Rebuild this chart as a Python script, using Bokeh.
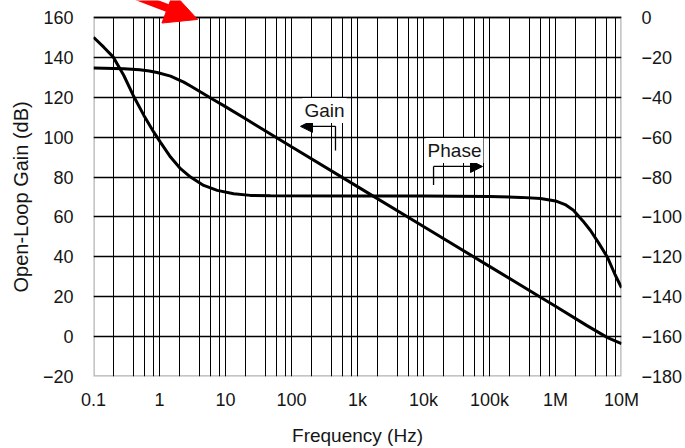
from bokeh.plotting import figure
from bokeh.models import (Range1d, LinearAxis, FixedTicker, Arrow, NormalHead, Label,
                          BoxAnnotation, Grid, Title)
from bokeh.embed import file_html
from bokeh.resources import INLINE

# ---- axis ticks / labels ----
freq_ticks = [0.1, 1, 10, 100, 1e3, 1e4, 1e5, 1e6, 1e7]
freq_tick_labels = ["0.1", "1", "10", "100", "1k", "10k", "100k", "1M", "10M"]
gain_ticks = [-20, 0, 20, 40, 60, 80, 100, 120, 140, 160]
phase_ticks = [-180, -160, -140, -120, -100, -80, -60, -40, -20, 0]

# ---- series ----
gain_freq = [0.1, 0.29, 0.5, 0.7, 0.92, 1.47, 2.33, 3.0, 4.2, 6.5, 9.4, 21, 48,
             100, 1000, 10000, 100000, 593000, 1000000, 3000000, 6140000, 10000000]
gain_db = [134.6, 134.3, 133.8, 133.2, 132.4, 130.6, 127.6, 125.5, 122.6, 118.9, 115.8, 108.8, 101.6,
           95.2, 75.2, 55.2, 35.2, 19.7, 15.2, 5.5, -0.5, -3.5]

phase_freq = [0.1, 0.143, 0.2, 0.288, 0.4, 0.58, 0.82, 1.03, 1.47, 2.08, 2.95, 4.67, 7.5,
              13.3, 23.8, 48, 1000, 10000, 100000, 300000, 593000, 1000000, 1400000, 1870000,
              2600000, 3390000, 4500000, 6140000, 8000000, 10000000]
phase_deg = [-9.9, -14.9, -19.9, -29.1, -39.1, -49.1, -57.5, -62.5, -70.0, -75.8, -80.0, -84.2, -86.7,
             -88.4, -89.2, -89.4, -89.5, -89.5, -89.8, -90.2, -90.8, -92.0, -93.8, -96.7,
             -102.0, -106.8, -113.0, -120.3, -129.0, -135.5]

FONT = "Liberation Sans"
TXT = "#151515"

# frame runs to the top of the page; the chart box itself stops at 160 dB / 0 deg
GAIN_LO, GAIN_HI = -20, 160
PHASE_LO, PHASE_HI = -180, 0
TOP_EXTRA = 8.5  # dB of blank room above the chart box (same in degrees)

p = figure(width=685, height=448, x_axis_type="log",
           x_range=Range1d(0.1, 1e7), y_range=Range1d(GAIN_LO, GAIN_HI + TOP_EXTRA),
           output_backend="svg", toolbar_location=None,
           min_border_left=93, min_border_right=64, min_border_top=0, min_border_bottom=72)
p.extra_y_ranges = {"phase": Range1d(PHASE_LO, PHASE_HI + TOP_EXTRA)}
p.add_layout(LinearAxis(y_range_name="phase"), "right")

minor = [d * m for d in freq_ticks[:-1] for m in (2, 4, 6, 8)]
xt = FixedTicker(ticks=freq_ticks, minor_ticks=minor)
p.xaxis.ticker = xt
p.xgrid.ticker = xt
p.xaxis.major_label_overrides = {t: l for t, l in zip(freq_ticks, freq_tick_labels)}

p.left[0].ticker = FixedTicker(ticks=gain_ticks)
p.ygrid.ticker = FixedTicker(ticks=gain_ticks)
p.left[0].major_label_overrides = {t: ("\u2212%d" % -t if t < 0 else str(t)) for t in gain_ticks}
p.right[0].ticker = FixedTicker(ticks=phase_ticks)
p.right[0].major_label_overrides = {t: ("\u2212%d" % -t if t < 0 else str(t)) for t in phase_ticks}

for ax in p.axis:
    ax.axis_line_color = None
    ax.major_tick_line_color = None
    ax.minor_tick_line_color = None
    ax.major_label_text_font = FONT
    ax.major_label_text_font_size = "18px"
    ax.major_label_text_color = TXT
    ax.major_label_standoff = 14
    ax.axis_label_text_font = FONT
    ax.axis_label_text_font_style = "normal"
    ax.axis_label_text_color = TXT

p.xaxis.major_label_standoff = 7
p.xaxis.axis_label = "Frequency (Hz)"
p.xaxis.axis_label_text_font_size = "19px"
p.xaxis.axis_label_standoff = 12

# y axis title, as a side title so it can be centred on the chart box
p.add_layout(Title(text="Open-Loop Gain (dB)", align="left", offset=84, standoff=15,
                   text_font=FONT, text_font_size="20px", text_font_style="normal",
                   text_color=TXT), "left")

# grid
p.ygrid.grid_line_color = "black"
p.ygrid.grid_line_width = 1.3
if "cross_bounds" in Grid.properties():
    p.xgrid.cross_bounds = (GAIN_LO, GAIN_HI)
    p.xgrid.grid_line_color = "black"
    p.xgrid.grid_line_width = 1
    p.xgrid.minor_grid_line_color = "black"
    p.xgrid.minor_grid_line_width = 1
else:
    p.xgrid.grid_line_color = None
    all_x = freq_ticks + minor
    p.segment(x0=all_x, y0=[GAIN_LO] * len(all_x), x1=all_x, y1=[GAIN_HI] * len(all_x),
              line_color="black", line_width=1, level="underlay")

p.outline_line_color = None
p.background_fill_color = "white"
p.border_fill_color = "white"
p.add_layout(BoxAnnotation(left=0.1, right=1e7, bottom=GAIN_LO, top=GAIN_HI,
                           fill_alpha=0, line_color="black", line_width=2.5))

p.line(gain_freq, gain_db, line_color="black", line_width=3)
p.line(phase_freq, phase_deg, y_range_name="phase", line_color="black", line_width=3)

# ---- annotations ----
gain_lbl = (316, 113.4)
gain_br_x, gain_br_y0, gain_br_y1, gain_tip_x = 464, 93.3, 105.4, 136.8
phase_lbl = (29500, 93.3)
phase_br_x, phase_br_y0, phase_br_y1, phase_tip_x = 14200, 76.0, 85.3, 78300

p.line([gain_br_x, gain_br_x], [gain_br_y0, gain_br_y1], line_color="black", line_width=1.3)
p.add_layout(Arrow(end=NormalHead(size=12, fill_color="black", line_color="black"),
                   x_start=gain_br_x, y_start=gain_br_y1, x_end=gain_tip_x, y_end=gain_br_y1,
                   line_color="black", line_width=1.3))
p.line([phase_br_x, phase_br_x], [phase_br_y0, phase_br_y1], line_color="black", line_width=1.3)
p.add_layout(Arrow(end=NormalHead(size=12, fill_color="black", line_color="black"),
                   x_start=phase_br_x, y_start=phase_br_y1, x_end=phase_tip_x, y_end=phase_br_y1,
                   line_color="black", line_width=1.3))

for (lx, ly), txt in ((gain_lbl, "Gain"), (phase_lbl, "Phase")):
    p.add_layout(Label(x=lx, y=ly, text=txt, text_align="center", text_baseline="middle",
                       text_font=FONT, text_font_size="19px", text_color=TXT,
                       background_fill_color="white", padding=2))

# red pointer arrow at the top
p.add_layout(Arrow(end=NormalHead(size=32, fill_color="#ff0000", line_color="#ff0000"),
                   x_start=0.1276, y_start=177.5, x_end=3.77, y_end=159.0,
                   line_color="#ff0000", line_width=8))

open("out.html", "w").write(file_html(p, INLINE))
